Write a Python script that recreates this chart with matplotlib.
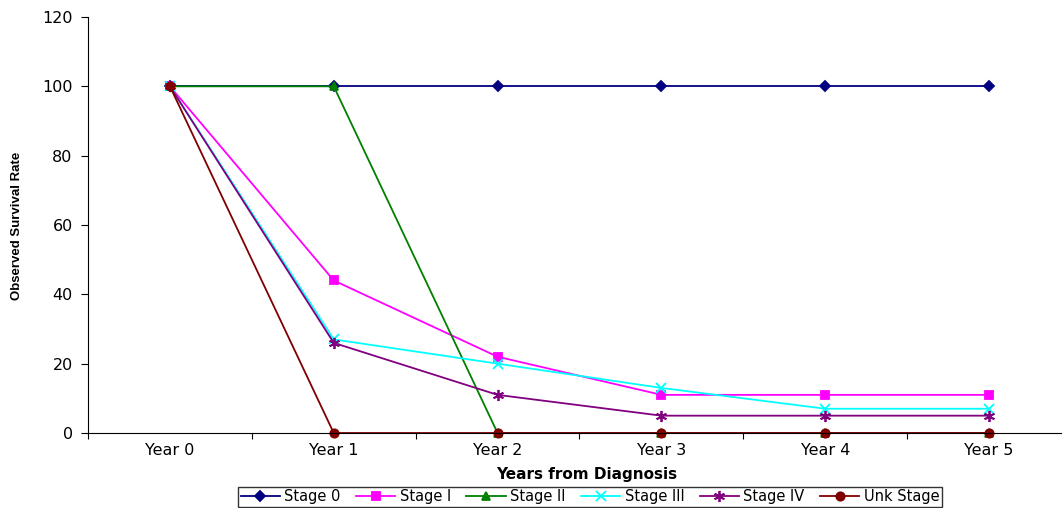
import matplotlib
matplotlib.use("Agg")
import matplotlib.pyplot as plt
from matplotlib.ticker import FixedLocator, NullFormatter, FixedFormatter

categories = ["Year 0", "Year 1", "Year 2", "Year 3", "Year 4", "Year 5"]
stage0 = [100, 100, 100, 100, 100, 100]
stage1 = [100, 44, 22, 11, 11, 11]
stage2 = [100, 100, 0, 0, 0, 0]
stage3 = [100, 27, 20, 13, 7, 7]
stage4 = [100, 26, 11, 5, 5, 5]
unk = [100, 0, 0, 0, 0, 0]
series_names = ["Stage 0", "Stage I", "Stage II", "Stage III", "Stage IV", "Unk Stage"]

plt.rcParams['font.family'] = ['DejaVu Sans']

fig = plt.figure(figsize=(10.62, 5.08), dpi=100)
ax = fig.add_axes([88/1062, 1-433/508, (1071-88)/1062, (433-17)/508])

x = list(range(len(categories)))
styles = [
    (stage0, "#000080", "D", 5),
    (stage1, "#FF00FF", "s", 6),
    (stage2, "#008000", "^", 6),
    (stage3, "#00FFFF", "x", 7),
    (stage4, "#800080", (6, 2, 0), 8),
    (unk, "#800000", "o", 6),
]
for (vals, col, mk, ms), name in zip(styles, series_names):
    ax.plot(x, vals, color=col, marker=mk, markersize=ms, linewidth=1.3,
            markeredgewidth=1.3, label=name, clip_on=False)

ax.set_xlim(-0.5, 5.5)
ax.set_ylim(0, 120)
ax.set_yticks(range(0, 121, 20))
ax.xaxis.set_major_locator(FixedLocator([i - 0.5 for i in range(7)]))
ax.xaxis.set_major_formatter(NullFormatter())
ax.xaxis.set_minor_locator(FixedLocator(x))
ax.xaxis.set_minor_formatter(FixedFormatter(categories))
ax.tick_params(axis='x', which='minor', length=0, labelsize=11.5, pad=7)
ax.tick_params(axis='x', which='major', length=4, direction='out')
ax.tick_params(axis='y', length=5, direction='out', labelsize=11.5, pad=6)
for s in ['top', 'right']:
    ax.spines[s].set_visible(False)
ax.spines['left'].set_color('#000000')
ax.spines['bottom'].set_color('#000000')

fig.text(587/1062, 1 - 475/508, "Years from Diagnosis", ha='center', va='center',
         fontsize=11, fontweight='bold')
fig.text(17/1062, 1 - 226/508, "Observed Survival Rate", rotation=90, ha='center',
         va='center', fontsize=9.5, fontweight='bold', family='Liberation Sans')

leg = ax.legend(loc='center', bbox_to_anchor=(590/1062, 1 - 497/508),
                bbox_transform=fig.transFigure, ncol=6, fontsize=10.5,
                frameon=True, fancybox=False, edgecolor='black',
                borderpad=0.15, handlelength=2.7, handletextpad=0.3,
                columnspacing=1.05, borderaxespad=0)
leg.get_frame().set_linewidth(1.0)

fig.savefig("out.png", dpi=100)
